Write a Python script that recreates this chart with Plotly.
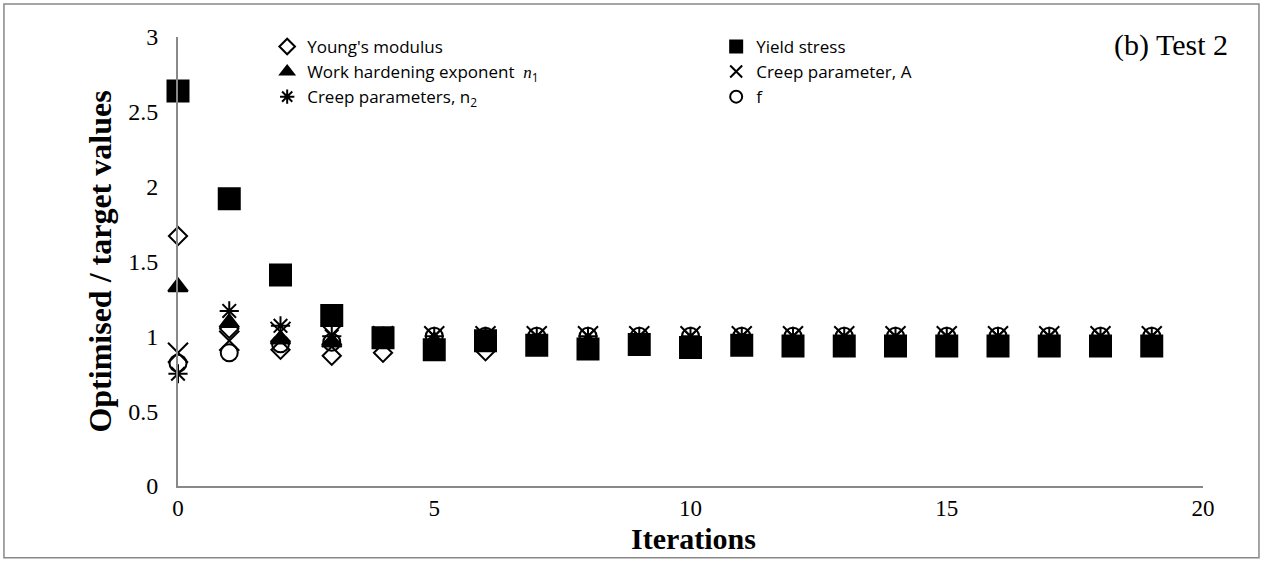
import plotly.graph_objects as go

iterations = list(range(20))

youngs_modulus = [1.67, 1.05, 0.91, 0.87, 0.89, 0.93, 0.90, 0.95, 0.95, 0.95,
                  0.95, 0.95, 0.95, 0.95, 0.95, 0.95, 0.95, 0.95, 0.95, 0.95]
yield_stress = [2.64, 1.92, 1.41, 1.14, 0.99, 0.91, 0.97, 0.94, 0.915, 0.945,
                0.925, 0.94, 0.935, 0.935, 0.935, 0.935, 0.935, 0.935, 0.935, 0.935]
work_hardening = [1.33, 1.09, 0.98, 0.96, 0.98, 0.97, 0.97, 0.96, 0.96, 0.96,
                  0.96, 0.96, 0.96, 0.96, 0.96, 0.96, 0.96, 0.96, 0.96, 0.96]
creep_a = [0.89, 0.97, 1.03, 1.01, 1.0, 1.0, 1.0, 1.0, 1.0, 1.0,
           1.0, 1.0, 1.0, 1.0, 1.0, 1.0, 1.0, 1.0, 1.0, 1.0]
creep_n2 = [0.75, 1.17, 1.07, 1.0, 1.0, 1.0, 1.0, 1.0, 1.0, 1.0,
            1.0, 1.0, 1.0, 1.0, 1.0, 1.0, 1.0, 1.0, 1.0, 1.0]
f_values = [0.82, 0.89, 0.95, 0.96, 1.0, 1.0, 1.0, 1.0, 1.0, 1.0,
            1.0, 1.0, 1.0, 1.0, 1.0, 1.0, 1.0, 1.0, 1.0, 1.0]

x_ticks = [0, 5, 10, 15, 20]
y_ticks = [0, 0.5, 1, 1.5, 2, 2.5, 3]

math_n = '<span style="font-family:Liberation Serif"><i>n</i></span>'
series = [
    ("Young's modulus", youngs_modulus, "diamond-open", 14),
    ("Yield stress", yield_stress, "square", 21),
    ("Work hardening exponent  " + math_n + "<sub>1</sub>", work_hardening, "triangle-up", 17),
    ("Creep parameter, A", creep_a, "x-thin-open", 20),
    ("Creep parameters, n<sub>2</sub>", creep_n2, "asterisk-open", 16),
    ("f", f_values, "circle-open", 17),
]

fig = go.Figure()
for name, vals, sym, size in series:
    fig.add_trace(go.Scatter(x=iterations, y=vals, mode="markers", name=name, cliponaxis=False,
                             marker=dict(symbol=sym, size=size, color="black",
                                         line=dict(color="black", width=2))))

fig.update_layout(
    width=1264, height=563,
    margin=dict(l=178, r=61, t=37, b=77, autoexpand=False),
    plot_bgcolor="white", paper_bgcolor="white",
    font=dict(family="Liberation Serif", color="black"),
    legend=dict(orientation="h", x=0.087, y=1.018, xanchor="left", yanchor="top",
                entrywidth=404, entrywidthmode="pixels", itemwidth=30,
                font=dict(family="Open Sans", size=17), bgcolor="rgba(0,0,0,0)",
                itemsizing="constant"),
    annotations=[
        dict(text="(b) Test 2", xref="paper", yref="paper", x=1.0263, y=0.982,
             xanchor="right", yanchor="middle", showarrow=False,
             font=dict(family="Liberation Serif", size=30)),
        dict(text="<b>Iterations</b>", xref="paper", yref="paper", x=0.503, y=-0.158,
             xanchor="center", yanchor="bottom", showarrow=False,
             font=dict(family="Liberation Serif", size=30)),
        dict(text="<b>Optimised / target values</b>", xref="paper", yref="paper",
             x=-0.077, y=0.5, xanchor="center", yanchor="middle", textangle=-90,
             showarrow=False, font=dict(family="Liberation Serif", size=32)),
    ],
    shapes=[dict(type="rect", xref="paper", yref="paper",
                 x0=-0.1698, x1=1.0546, y0=-0.160, y1=1.0735,
                 line=dict(color="#888888", width=1.5))],
)
fig.update_xaxes(range=[0, 20], tickvals=x_ticks, showline=True, linecolor="#888888",
                 linewidth=2, showgrid=False, zeroline=False, ticks="",
                 tickfont=dict(size=23), ticklabelstandoff=0)
fig.update_yaxes(range=[0, 3], tickvals=y_ticks, showline=True, linecolor="#888888",
                 linewidth=2, showgrid=False, zeroline=False, ticks="",
                 tickfont=dict(size=24), ticklabelstandoff=13)

fig.write_html("out.html", config={"displayModeBar": False},
               post_script="document.body.style.margin='0';")
